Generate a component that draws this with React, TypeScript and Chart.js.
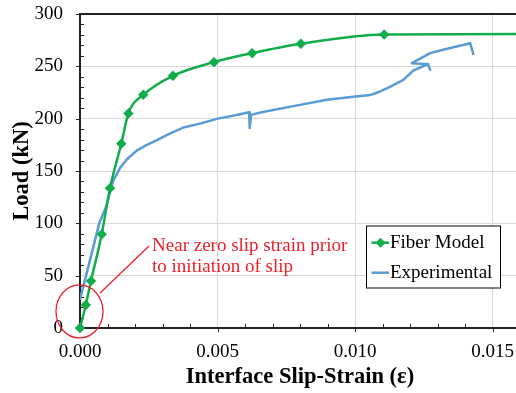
import React, { useEffect, useRef } from 'react';
import { Chart, registerables } from 'chart.js';

Chart.register(...registerables);

// ---------- data ----------
const X_TICKS = [0, 0.005, 0.01, 0.015];
const Y_TICKS = [0, 50, 100, 150, 200, 250, 300];

const FIBER_X = [0, 0.00021, 0.0004, 0.00079, 0.00109, 0.0015, 0.00176, 0.0023, 0.00338, 0.00487, 0.00626, 0.00803, 0.01106, 0.0175];
const FIBER_Y = [0, 22, 45, 89.6, 133.6, 176, 205, 222.8, 241, 254, 262.6, 271.5, 280.4, 281];
const FIBER_MARKERS = [1, 1, 1, 1, 1, 1, 1, 1, 1, 1, 1, 1, 1, 0];

const EXP_X = [0, 0.0007, 0.00095, 0.00121, 0.00146, 0.0017, 0.00206, 0.00243, 0.0028, 0.00328, 0.00376, 0.0044, 0.00497, 0.0056, 0.00615, 0.00617, 0.00622, 0.00655, 0.00776, 0.00898, 0.00994, 0.01055, 0.01075, 0.01095, 0.01116, 0.01176, 0.01212, 0.01266, 0.01273, 0.01266, 0.01207, 0.01273, 0.0132, 0.01419, 0.01431];
const EXP_Y = [27, 100, 116, 141, 153, 161, 169.5, 175, 179.5, 186, 191.5, 195.5, 199.8, 203, 206.2, 191, 203.6, 205.8, 212, 218, 221, 222.7, 224.3, 226.5, 229, 237, 246, 252.1, 246.7, 252.1, 253, 262.6, 265.8, 272, 261];

const SERIES_NAMES = ['Fiber Model', 'Experimental'];
const X_TITLE = 'Interface Slip-Strain (\u03b5)';
const Y_TITLE = 'Load (kN)';
const NOTE_LINES = ['Near zero slip strain prior', 'to initiation of slip'];

// ---------- styles ----------
const FONT = "'Liberation Serif', 'Times New Roman', serif";
const GREEN = '#12AD4B';
const BLUE = '#5B9BD5';
const RED = '#EE1F2A';
const AXIS = '#222222';
const GRID = '#D9D9D9';

const decor = {
  id: 'decor',
  beforeDatasetsDraw(chart: any) {
    const { ctx, chartArea: a, scales } = chart;
    const xs = scales.x;
    const ys = scales.y;
    ctx.save();
    ctx.strokeStyle = AXIS;
    ctx.lineWidth = 1;
    ctx.beginPath();
    for (let v = 10; v < 300; v += 10) {
      const py = Math.round(ys.getPixelForValue(v)) + 0.5;
      if (v % 50 === 0) continue;
      ctx.moveTo(a.left, py);
      ctx.lineTo(a.left + 4, py);
    }
    for (const v of Y_TICKS) {
      const py = Math.round(ys.getPixelForValue(v)) + 0.5;
      ctx.moveTo(a.left - 4, py);
      ctx.lineTo(a.left, py);
    }
    for (let i = 1; i <= 16; i++) {
      if (i % 5 === 0) continue;
      const px = Math.round(xs.getPixelForValue(i * 0.001)) + 0.5;
      ctx.moveTo(px, a.bottom);
      ctx.lineTo(px, a.bottom - 4);
    }
    for (const v of X_TICKS) {
      const px = Math.round(xs.getPixelForValue(v)) + 0.5;
      ctx.moveTo(px, a.bottom);
      ctx.lineTo(px, a.bottom + 4);
    }
    ctx.stroke();
    ctx.lineWidth = 2;
    ctx.beginPath();
    ctx.moveTo(a.left, a.top);
    ctx.lineTo(a.left, a.bottom);
    ctx.lineTo(a.right, a.bottom);
    ctx.moveTo(a.left - 1, a.top);
    ctx.lineTo(a.right, a.top);
    ctx.stroke();
    ctx.restore();
  },
  afterDatasetsDraw(chart: any) {
    const { ctx, scales } = chart;
    const xs = scales.x;
    const ys = scales.y;
    const px = (v: number) => xs.getPixelForValue(v);
    const py = (v: number) => ys.getPixelForValue(v);
    ctx.save();
    ctx.strokeStyle = RED;
    ctx.lineWidth = 1.3;
    ctx.beginPath();
    ctx.ellipse(px(0) - 0.5, py(15.8), 23.5, 26.5, 0, 0, Math.PI * 2);
    ctx.stroke();
    ctx.beginPath();
    ctx.moveTo(px(0.00073), py(33.5));
    ctx.lineTo(px(0.00251), py(78.4));
    ctx.stroke();
    ctx.fillStyle = RED;
    ctx.font = `19px ${FONT}`;
    ctx.textBaseline = 'alphabetic';
    ctx.textAlign = 'left';
    ctx.fillText(NOTE_LINES[0], px(0.00262), py(73.6));
    ctx.fillText(NOTE_LINES[1], px(0.00262), py(53.8));

    const L = 366.5, T = 226, R = 500.5, B = 288;
    ctx.fillStyle = '#fff';
    ctx.fillRect(L, T, R - L, B - T);
    ctx.strokeStyle = '#000';
    ctx.lineWidth = 1;
    ctx.strokeRect(L, T, R - L, B - T);
    const rows = [242.7, 272.7];
    const colors = [GREEN, BLUE];
    rows.forEach((yy, i) => {
      ctx.strokeStyle = colors[i];
      ctx.lineWidth = 2.5;
      ctx.beginPath();
      ctx.moveTo(371.5, yy);
      ctx.lineTo(389, yy);
      ctx.stroke();
      if (i === 0) {
        ctx.fillStyle = GREEN;
        ctx.beginPath();
        ctx.moveTo(380.5, yy - 5);
        ctx.lineTo(385.5, yy);
        ctx.lineTo(380.5, yy + 5);
        ctx.lineTo(375.5, yy);
        ctx.closePath();
        ctx.fill();
      }
      ctx.fillStyle = '#000';
      ctx.font = `19px ${FONT}`;
      ctx.textBaseline = 'middle';
      ctx.fillText(SERIES_NAMES[i], 390, yy);
    });
    ctx.restore();
  },
};

export default function App() {
  const ref = useRef<HTMLCanvasElement>(null);
  useEffect(() => {
    const chart = new Chart(ref.current as HTMLCanvasElement, {
      type: 'line',
      data: {
        datasets: [
          {
            label: SERIES_NAMES[0],
            data: FIBER_X.map((x, i) => ({ x, y: FIBER_Y[i] })),
            borderColor: GREEN,
            backgroundColor: GREEN,
            borderWidth: 2.5,
            pointStyle: 'rectRot',
            pointRadius: FIBER_MARKERS.map((m) => (m ? 5 : 0)),
            pointBorderWidth: 0.5,
            pointBorderColor: GREEN,
            pointBackgroundColor: GREEN,
            cubicInterpolationMode: 'monotone',
            clip: { left: 8, bottom: 8, top: 0, right: 0 },
          } as any,
          {
            label: SERIES_NAMES[1],
            data: EXP_X.map((x, i) => ({ x, y: EXP_Y[i] })),
            borderColor: BLUE,
            backgroundColor: BLUE,
            borderWidth: 2.5,
            pointRadius: 0,
            tension: 0,
            borderJoinStyle: 'round',
          } as any,
        ],
      },
      options: {
        responsive: false,
        animation: false,
        events: [],
        layout: { autoPadding: false, padding: { top: 14, left: 0, right: 0, bottom: 0 } },
        plugins: { legend: { display: false }, tooltip: { enabled: false } },
        scales: {
          x: {
            type: 'linear',
            min: 0,
            max: 0.016,
            afterBuildTicks: (s: any) => {
              s.ticks = X_TICKS.map((value) => ({ value }));
            },
            afterFit: (s: any) => {
              s.height = 65;
              s.paddingLeft = 0;
              s.paddingRight = 0;
              s.paddingTop = 0;
              s.paddingBottom = 0;
            },
            grid: { color: GRID, lineWidth: 1, drawTicks: false },
            border: { display: false },
            ticks: {
              padding: 12.4,
              color: '#000',
              font: { family: FONT, size: 19 },
              maxRotation: 0,
              autoSkip: false,
              callback: (v: any) => Number(v).toFixed(3),
            },
            title: {
              display: true,
              text: X_TITLE,
              color: '#000',
              font: { family: FONT, size: 22.5, weight: 'bold' },
              padding: { top: 0, bottom: 2 },
            },
          },
          y: {
            type: 'linear',
            min: 0,
            max: 300,
            afterBuildTicks: (s: any) => {
              s.ticks = Y_TICKS.map((value) => ({ value }));
            },
            afterFit: (s: any) => {
              s.width = 80;
              s.paddingLeft = 0;
              s.paddingRight = 0;
              s.paddingTop = 0;
              s.paddingBottom = 0;
            },
            grid: { color: GRID, lineWidth: 1, drawTicks: false },
            border: { display: false },
            ticks: {
              padding: 17,
              color: '#000',
              font: { family: FONT, size: 19 },
              autoSkip: false,
            },
            title: {
              display: true,
              text: Y_TITLE,
              color: '#000',
              font: { family: FONT, size: 22.5, weight: 'bold' },
              padding: { top: 9, bottom: 0 },
            },
          },
        },
      } as any,
      plugins: [decor],
    });
    return () => chart.destroy();
  }, []);
  return (
    <div style={{ position: 'fixed', left: 0, top: 0, width: 516, height: 393, overflow: 'hidden', background: '#fff' }}>
      <canvas ref={ref} width={520} height={393} style={{ display: 'block' }} />
    </div>
  );
}
